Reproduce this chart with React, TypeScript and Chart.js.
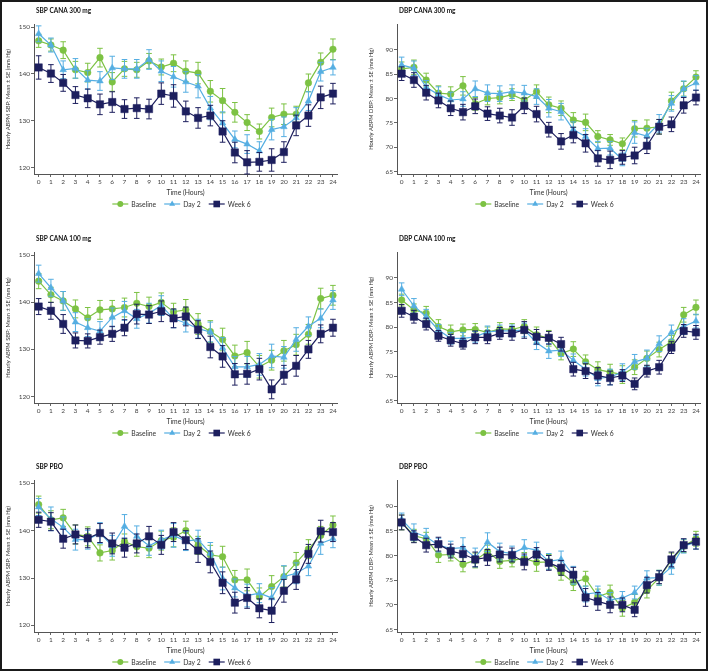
import React, { useEffect, useRef } from 'react';
import { Chart, registerables } from 'chart.js';

Chart.register(...registerables);

// ---------- data ----------
const hours = [0, 1, 2, 3, 4, 5, 6, 7, 8, 9, 10, 11, 12, 13, 14, 15, 16, 17, 18, 19, 20, 21, 22, 23, 24];
const sbpTicks = [120, 130, 140, 150];
const dbpTicks = [65, 70, 75, 80, 85, 90];
const seriesNames = ['Baseline', 'Day 2', 'Week 6'];
const panelTitles = ['SBP CANA 300 mg', 'DBP CANA 300 mg', 'SBP CANA 100 mg', 'DBP CANA 100 mg', 'SBP PBO', 'DBP PBO'];
const xAxisTitle = 'Time (Hours)';
const sbpAxisTitle = 'Hourly ABPM SBP: Mean ± SE (mm Hg)';
const dbpAxisTitle = 'Hourly ABPM DBP: Mean ± SE (mm Hg)';

// SBP CANA 300 mg
const sbp300Baseline = [147.1, 146.2, 145.1, 140.9, 140.3, 143.5, 138.3, 141.1, 140.9, 142.8, 141.5, 142.3, 140.6, 140.2, 136.3, 134.3, 131.8, 129.6, 127.7, 130.7, 131.4, 131.4, 138.1, 142.5, 145.3];
const sbp300BaselineSE = [1.4, 1.3, 1.8, 1.8, 2.0, 2.0, 2.0, 1.6, 1.6, 1.6, 1.7, 1.8, 2.2, 2.3, 2.3, 2.6, 2.1, 1.7, 1.6, 2.0, 2.2, 1.7, 1.9, 2.0, 2.2];
const sbp300Day2 = [148.6, 146.2, 140.9, 141.2, 138.7, 138.5, 141.3, 141.1, 141.1, 143.1, 140.6, 139.4, 138.3, 137.4, 132.7, 129.5, 126.0, 125.0, 123.5, 128.1, 128.7, 130.6, 134.2, 140.5, 141.4];
const sbp300Day2SE = [1.7, 1.5, 1.9, 2.1, 2.0, 2.0, 2.5, 2.0, 2.0, 2.1, 2.2, 2.2, 2.2, 2.5, 2.5, 2.4, 1.8, 2.0, 2.0, 2.2, 2.1, 2.2, 2.0, 2.0, 1.6];
const sbp300Week6 = [141.4, 140.1, 138.1, 135.5, 134.8, 133.5, 134.0, 132.5, 132.7, 132.5, 135.8, 135.3, 132.0, 130.6, 131.1, 127.7, 123.2, 121.1, 121.2, 121.6, 123.3, 129.0, 131.1, 135.0, 135.8];
const sbp300Week6SE = [2.5, 1.9, 1.8, 1.8, 2.0, 2.2, 2.2, 2.0, 2.2, 2.1, 2.3, 2.4, 2.2, 2.2, 2.2, 2.3, 2.2, 2.5, 2.0, 2.4, 2.2, 2.2, 2.3, 2.4, 2.2];

// DBP CANA 300 mg
const dbp300Baseline = [86.1, 86.4, 83.8, 81.1, 80.9, 82.6, 78.9, 80.0, 80.2, 80.8, 79.7, 81.4, 78.7, 78.0, 75.6, 75.1, 72.2, 71.5, 70.7, 73.8, 73.9, 74.2, 79.5, 82.0, 84.4];
const dbp300BaselineSE = [1.4, 1.5, 1.4, 1.5, 1.5, 1.9, 1.3, 1.3, 1.3, 1.2, 1.3, 1.4, 1.6, 1.5, 1.5, 1.7, 1.2, 1.1, 1.2, 1.7, 1.7, 1.5, 1.8, 1.5, 1.3];
const dbp300Day2 = [86.9, 86.2, 82.3, 80.8, 79.7, 79.9, 82.0, 81.1, 81.0, 81.4, 81.1, 80.4, 78.0, 77.3, 73.6, 72.2, 69.7, 69.8, 67.5, 73.0, 72.3, 74.9, 79.0, 82.0, 83.2];
const dbp300Day2SE = [1.6, 1.5, 1.4, 1.6, 1.6, 1.5, 1.6, 1.7, 1.6, 1.4, 1.6, 1.6, 1.8, 1.7, 1.6, 1.6, 1.5, 1.4, 1.3, 2.2, 1.6, 1.8, 1.6, 1.6, 1.5];
const dbp300Week6 = [85.1, 83.8, 81.2, 79.6, 78.0, 77.2, 78.4, 76.9, 76.5, 76.1, 78.5, 76.8, 73.6, 71.2, 72.5, 70.8, 67.7, 67.4, 67.9, 68.3, 70.3, 74.2, 74.7, 78.6, 80.2];
const dbp300Week6SE = [1.4, 1.5, 1.5, 1.5, 1.5, 1.6, 1.5, 1.4, 1.5, 1.6, 1.6, 1.6, 1.5, 1.6, 1.6, 1.8, 1.6, 1.8, 1.4, 1.7, 1.6, 1.5, 1.5, 1.6, 1.5];

// SBP CANA 100 mg
const sbp100Baseline = [144.5, 141.6, 140.3, 138.6, 136.7, 138.4, 138.6, 138.9, 139.8, 139.1, 140.0, 138.0, 138.4, 135.4, 133.8, 132.1, 128.6, 129.3, 126.3, 127.7, 129.7, 131.0, 133.2, 140.8, 141.5];
const sbp100BaselineSE = [1.6, 1.6, 2.0, 1.9, 2.2, 2.0, 1.8, 2.0, 2.3, 2.0, 2.0, 1.8, 2.2, 2.2, 2.3, 2.4, 2.3, 2.4, 2.4, 2.1, 2.2, 2.2, 2.1, 2.2, 2.1];
const sbp100Day2 = [146.1, 143.1, 140.3, 135.8, 134.6, 133.9, 136.8, 138.2, 136.5, 137.7, 139.3, 136.5, 135.6, 134.4, 133.7, 130.3, 126.3, 126.3, 126.8, 128.6, 128.3, 132.1, 134.9, 136.6, 140.5];
const sbp100Day2SE = [1.8, 1.8, 2.0, 2.0, 1.9, 2.0, 2.0, 2.0, 2.0, 2.1, 2.1, 1.9, 1.9, 2.0, 2.1, 2.2, 2.2, 2.2, 2.3, 2.5, 2.3, 2.5, 2.0, 2.0, 2.0];
const sbp100Week6 = [139.1, 138.2, 135.4, 131.9, 131.8, 132.6, 133.3, 134.6, 137.5, 137.4, 138.1, 136.6, 137.0, 134.2, 130.5, 128.5, 124.7, 124.8, 125.8, 121.5, 124.6, 126.5, 130.0, 133.3, 134.6];
const sbp100Week6SE = [1.7, 1.8, 2.0, 1.6, 1.5, 1.5, 1.6, 1.7, 2.1, 1.9, 2.2, 2.0, 2.0, 1.9, 2.3, 2.3, 2.3, 2.2, 2.3, 2.0, 2.0, 2.2, 1.9, 1.9, 1.8];

// DBP CANA 100 mg
const dbp100Baseline = [85.5, 83.5, 82.8, 80.1, 79.0, 79.4, 79.5, 78.9, 79.6, 79.5, 80.1, 78.4, 77.7, 74.6, 75.5, 72.9, 71.3, 70.8, 70.3, 71.8, 73.6, 75.4, 77.0, 82.5, 84.0];
const dbp100BaselineSE = [1.2, 1.2, 1.4, 1.4, 1.4, 1.2, 1.2, 1.1, 1.3, 1.2, 1.4, 1.6, 1.6, 1.3, 1.5, 1.4, 1.6, 1.6, 1.8, 1.5, 1.5, 1.5, 1.3, 1.5, 1.5];
const dbp100Day2 = [87.7, 84.3, 82.1, 79.4, 77.7, 77.7, 78.0, 79.0, 79.2, 79.2, 79.4, 76.8, 75.1, 75.3, 73.2, 71.4, 69.5, 69.8, 70.8, 72.9, 73.6, 76.6, 78.9, 80.1, 81.2];
const dbp100Day2SE = [1.3, 1.5, 1.5, 1.1, 1.2, 1.2, 1.1, 1.2, 1.2, 1.2, 1.4, 1.4, 1.5, 1.3, 1.3, 1.4, 1.5, 1.6, 1.7, 1.5, 1.7, 1.6, 1.5, 1.6, 1.4];
const dbp100Week6 = [83.3, 82.1, 80.6, 78.2, 77.3, 76.6, 77.9, 77.9, 78.7, 78.7, 79.4, 78.0, 77.8, 76.5, 71.4, 71.0, 70.1, 69.6, 70.1, 68.4, 71.0, 71.8, 75.8, 79.2, 78.9];
const dbp100Week6SE = [1.3, 1.3, 1.2, 1.1, 1.2, 1.1, 1.3, 1.3, 1.2, 1.4, 1.7, 1.5, 1.3, 1.4, 1.4, 1.5, 1.6, 1.4, 1.2, 1.2, 1.2, 1.4, 1.2, 1.3, 1.4];

// SBP PBO
const sbpPboBaseline = [145.5, 142.3, 142.7, 139.2, 138.8, 135.3, 135.8, 137.7, 136.6, 136.3, 137.9, 138.6, 140.0, 136.9, 134.9, 134.5, 129.6, 129.6, 126.0, 128.2, 130.3, 133.2, 136.1, 139.0, 141.2];
const sbpPboBaselineSE = [1.8, 1.9, 1.8, 2.0, 2.0, 1.7, 2.0, 1.6, 2.0, 2.0, 2.0, 2.0, 2.0, 1.9, 2.0, 2.2, 2.0, 2.3, 1.9, 2.3, 2.2, 2.2, 2.0, 1.9, 1.9];
const sbpPboDay2 = [145.0, 142.5, 140.7, 138.1, 138.1, 139.5, 136.8, 140.9, 138.8, 136.8, 138.1, 139.0, 137.8, 138.1, 135.2, 129.9, 127.9, 126.3, 126.8, 125.8, 130.3, 131.0, 132.5, 137.3, 138.3];
const sbpPboDay2SE = [1.8, 2.5, 2.2, 2.2, 2.0, 2.2, 2.2, 2.5, 2.2, 2.0, 2.0, 2.5, 2.0, 2.0, 2.3, 2.4, 1.9, 2.4, 2.0, 2.2, 2.3, 2.2, 2.0, 2.3, 1.9];
const sbpPboWeek6 = [142.3, 141.9, 138.3, 139.2, 138.4, 139.5, 137.3, 136.4, 137.3, 138.8, 137.0, 139.7, 138.0, 135.8, 133.4, 129.0, 124.8, 125.8, 123.6, 123.1, 127.3, 129.7, 135.1, 139.9, 139.7];
const sbpPboWeek6SE = [1.6, 1.9, 2.0, 2.0, 2.0, 2.0, 2.2, 2.0, 2.0, 2.1, 2.0, 2.0, 2.0, 2.5, 2.3, 2.3, 2.2, 2.2, 2.0, 2.5, 2.4, 2.1, 2.0, 2.3, 2.0];

// DBP PBO
const dbpPboBaseline = [86.7, 84.0, 83.4, 80.1, 80.2, 78.2, 79.0, 80.8, 78.8, 79.0, 79.4, 78.6, 78.7, 76.5, 74.5, 75.3, 71.7, 72.5, 69.3, 70.5, 72.9, 75.5, 79.0, 81.9, 83.4];
const dbpPboBaselineSE = [1.5, 1.3, 1.3, 1.5, 1.3, 1.5, 1.5, 1.3, 1.4, 1.3, 1.2, 1.8, 1.5, 1.5, 1.6, 1.5, 1.5, 1.5, 1.6, 1.6, 1.5, 1.5, 1.5, 1.3, 1.5];
const dbpPboDay2 = [87.3, 84.7, 83.8, 82.1, 81.4, 81.6, 79.6, 82.7, 80.8, 80.4, 81.6, 81.1, 78.8, 79.2, 76.0, 72.2, 72.5, 71.0, 71.4, 72.5, 75.4, 75.5, 77.7, 81.9, 82.7];
const dbpPboDay2SE = [1.3, 1.7, 1.7, 1.4, 1.5, 2.0, 1.9, 1.9, 1.7, 1.5, 1.6, 1.6, 1.6, 1.7, 1.8, 1.6, 1.3, 1.5, 1.3, 1.3, 1.5, 1.5, 1.5, 1.4, 1.4];
const dbpPboWeek6 = [86.7, 83.8, 82.1, 82.3, 80.9, 80.3, 79.2, 79.6, 80.2, 80.1, 78.7, 80.2, 78.5, 77.5, 76.1, 71.5, 70.7, 70.0, 70.0, 69.0, 74.0, 75.6, 79.2, 82.1, 82.8];
const dbpPboWeek6SE = [1.5, 1.2, 1.4, 1.4, 1.4, 1.5, 1.5, 1.6, 1.5, 1.4, 1.6, 1.4, 1.5, 1.5, 1.5, 1.8, 1.8, 1.6, 1.4, 1.4, 1.6, 1.3, 1.5, 1.3, 1.5];

// ---------- styles ----------
const FONT = "Lato, 'Open Sans', 'DejaVu Sans', sans-serif";
const seriesStyles = [
  { color: '#7cc243', pointStyle: 'circle', radius: 3.3 },
  { color: '#55aee2', pointStyle: 'triangle', radius: 3.8 },
  { color: '#1d1f5e', pointStyle: 'rect', radius: 5.2 },
];
const seriesOrder = [3, 2, 1];

const colRects = [
  { x: 0, w: 352, padL: 0, padR: 17 },
  { x: 354, w: 350, padL: 9, padR: 6 },
];
const rowRects = [
  { y: 0, h: 216, padT: 22, padB: 18 },
  { y: 224, h: 220, padT: 26, padB: 17 },
  { y: 450, h: 216, padT: 28, padB: 10 },
];

type PanelDef = {
  title: string;
  kind: 'SBP' | 'DBP';
  row: number;
  col: number;
  values: number[][];
  errors: number[][];
};

const panelDefs: PanelDef[] = [
  { title: panelTitles[0], kind: 'SBP', row: 0, col: 0, values: [sbp300Baseline, sbp300Day2, sbp300Week6], errors: [sbp300BaselineSE, sbp300Day2SE, sbp300Week6SE] },
  { title: panelTitles[1], kind: 'DBP', row: 0, col: 1, values: [dbp300Baseline, dbp300Day2, dbp300Week6], errors: [dbp300BaselineSE, dbp300Day2SE, dbp300Week6SE] },
  { title: panelTitles[2], kind: 'SBP', row: 1, col: 0, values: [sbp100Baseline, sbp100Day2, sbp100Week6], errors: [sbp100BaselineSE, sbp100Day2SE, sbp100Week6SE] },
  { title: panelTitles[3], kind: 'DBP', row: 1, col: 1, values: [dbp100Baseline, dbp100Day2, dbp100Week6], errors: [dbp100BaselineSE, dbp100Day2SE, dbp100Week6SE] },
  { title: panelTitles[4], kind: 'SBP', row: 2, col: 0, values: [sbpPboBaseline, sbpPboDay2, sbpPboWeek6], errors: [sbpPboBaselineSE, sbpPboDay2SE, sbpPboWeek6SE] },
  { title: panelTitles[5], kind: 'DBP', row: 2, col: 1, values: [dbpPboBaseline, dbpPboDay2, dbpPboWeek6], errors: [dbpPboBaselineSE, dbpPboDay2SE, dbpPboWeek6SE] },
];

// ---------- helpers ----------
function drawMarker(ctx: CanvasRenderingContext2D, style: string, x: number, y: number, r: number) {
  ctx.beginPath();
  if (style === 'circle') {
    ctx.arc(x, y, r, 0, Math.PI * 2);
  } else if (style === 'triangle') {
    let rad = 0;
    ctx.moveTo(x + Math.sin(rad) * r, y - Math.cos(rad) * r);
    rad += (Math.PI * 2) / 3;
    ctx.lineTo(x + Math.sin(rad) * r, y - Math.cos(rad) * r);
    rad += (Math.PI * 2) / 3;
    ctx.lineTo(x + Math.sin(rad) * r, y - Math.cos(rad) * r);
    ctx.closePath();
  } else {
    const s = Math.SQRT1_2 * r;
    ctx.rect(x - s, y - s, 2 * s, 2 * s);
  }
  ctx.fill();
}

const errorBarPlugin = {
  id: 'errorBars',
  beforeDatasetDraw(chart: any, args: any) {
    const ds = chart.data.datasets[args.index];
    const se: number[] | undefined = ds.se;
    if (!se) return;
    const yScale = chart.scales.y;
    const ctx: CanvasRenderingContext2D = chart.ctx;
    ctx.save();
    ctx.strokeStyle = ds.borderColor;
    ctx.lineWidth = 1;
    args.meta.data.forEach((pt: any, i: number) => {
      const v = ds.data[i].y;
      const top = yScale.getPixelForValue(v + se[i]);
      const bot = yScale.getPixelForValue(v - se[i]);
      const x = pt.x;
      ctx.beginPath();
      ctx.moveTo(x, top);
      ctx.lineTo(x, bot);
      ctx.moveTo(x - 2.8, top);
      ctx.lineTo(x + 2.8, top);
      ctx.moveTo(x - 2.8, bot);
      ctx.lineTo(x + 2.8, bot);
      ctx.stroke();
    });
    ctx.restore();
  },
};

const panelTitlePlugin = {
  id: 'panelTitle',
  afterDraw(chart: any, _args: any, opts: any) {
    const ctx: CanvasRenderingContext2D = chart.ctx;
    const area = chart.chartArea;
    ctx.save();
    ctx.font = `bold 6.5px ${FONT}`;
    ctx.fillStyle = '#111';
    ctx.textBaseline = 'middle';
    ctx.textAlign = 'left';
    ctx.fillText(opts.text, area.left + 2, area.top - 13);
    ctx.restore();
  },
};

const lineLegendPlugin = {
  id: 'lineLegend',
  afterDraw(chart: any) {
    const ctx: CanvasRenderingContext2D = chart.ctx;
    const area = chart.chartArea;
    const dsets = chart.data.datasets;
    ctx.save();
    ctx.font = `6.8px ${FONT}`;
    const lineLen = 16;
    const gap = 3;
    const itemGap = 8;
    const widths = dsets.map((d: any) => lineLen + gap + ctx.measureText(d.label).width);
    const total = widths.reduce((a: number, b: number) => a + b, 0) + itemGap * (dsets.length - 1);
    let x = (area.left + area.right) / 2 - 4 - total / 2;
    const y = area.bottom + 30;
    dsets.forEach((d: any, i: number) => {
      ctx.strokeStyle = d.borderColor;
      ctx.fillStyle = d.borderColor;
      ctx.lineWidth = 1.2;
      ctx.beginPath();
      ctx.moveTo(x, y);
      ctx.lineTo(x + lineLen, y);
      ctx.stroke();
      drawMarker(ctx, d.pointStyle, x + lineLen / 2, y, d.pointRadius * 0.9);
      ctx.fillStyle = '#333';
      ctx.textBaseline = 'middle';
      ctx.textAlign = 'left';
      ctx.fillText(d.label, x + lineLen + gap, y + 0.5);
      x += widths[i] + itemGap;
    });
    ctx.restore();
  },
};

function Panel({ def }: { def: PanelDef }) {
  const ref = useRef<HTMLCanvasElement>(null);
  const col = colRects[def.col];
  const row = rowRects[def.row];
  useEffect(() => {
    const isSbp = def.kind === 'SBP';
    const yTicks = isSbp ? sbpTicks : dbpTicks;
    const chart = new Chart(ref.current as HTMLCanvasElement, {
      type: 'line',
      data: {
        datasets: seriesNames.map((name, si) => ({
          label: name,
          data: hours.map((h, i) => ({ x: h, y: def.values[si][i] })),
          se: def.errors[si],
          borderColor: seriesStyles[si].color,
          backgroundColor: seriesStyles[si].color,
          pointBackgroundColor: seriesStyles[si].color,
          pointBorderColor: seriesStyles[si].color,
          pointBorderWidth: 0.5,
          pointStyle: seriesStyles[si].pointStyle,
          pointRadius: seriesStyles[si].radius,
          borderWidth: 1.2,
          tension: 0,
          order: seriesOrder[si],
          clip: false,
        })) as any,
      },
      options: {
        responsive: false,
        animation: false,
        events: [],
        layout: { padding: { left: col.padL, right: col.padR, top: row.padT, bottom: row.padB } },
        plugins: {
          legend: { display: false },
          title: { display: false },
          tooltip: { enabled: false },
          panelTitle: { text: def.title },
        } as any,
        scales: {
          x: {
            type: 'linear',
            min: -0.38,
            max: 24.33,
            afterBuildTicks: (scale: any) => {
              scale.ticks = hours.map((v) => ({ value: v }));
            },
            afterFit: (scale: any) => {
              scale.height = 26;
            },
            ticks: {
              autoSkip: false,
              maxRotation: 0,
              padding: 1,
              color: '#444',
              font: { size: 6.5, family: FONT },
            },
            grid: { drawOnChartArea: false, drawTicks: true, tickLength: 3, color: '#666' },
            border: { display: true, color: '#555', width: 1 },
            title: {
              display: true,
              text: xAxisTitle,
              color: '#333',
              font: { size: 6.8, family: FONT },
              padding: { top: 2, bottom: 3 },
            },
          },
          y: {
            type: 'linear',
            min: isSbp ? 118.6 : 64.5,
            max: isSbp ? 150.7 : 95.3,
            afterBuildTicks: (scale: any) => {
              scale.ticks = yTicks.map((v) => ({ value: v }));
            },
            afterFit: (scale: any) => {
              scale.width = 32;
            },
            ticks: {
              padding: 1,
              color: '#444',
              font: { size: 6.5, family: FONT },
            },
            grid: { drawOnChartArea: false, drawTicks: true, tickLength: 3, color: '#666' },
            border: { display: true, color: '#555', width: 1 },
            title: {
              display: true,
              text: isSbp ? sbpAxisTitle : dbpAxisTitle,
              color: '#333',
              font: { size: 5.8, family: FONT },
              padding: { top: 3, bottom: 2 },
            },
          },
        },
      },
      plugins: [errorBarPlugin, panelTitlePlugin, lineLegendPlugin],
    } as any);
    return () => chart.destroy();
  }, []);
  return (
    <canvas
      ref={ref}
      width={col.w}
      height={row.h}
      style={{ position: 'absolute', left: col.x, top: row.y, width: col.w, height: row.h }}
    />
  );
}

export default function App() {
  return (
    <div
      style={{
        position: 'fixed',
        left: 0,
        top: 0,
        width: 708,
        height: 671,
        boxSizing: 'border-box',
        border: '2px solid #1a1a1a',
        background: '#fff',
        overflow: 'hidden',
      }}
    >
      {panelDefs.map((d, i) => (
        <Panel key={i} def={d} />
      ))}
    </div>
  );
}
